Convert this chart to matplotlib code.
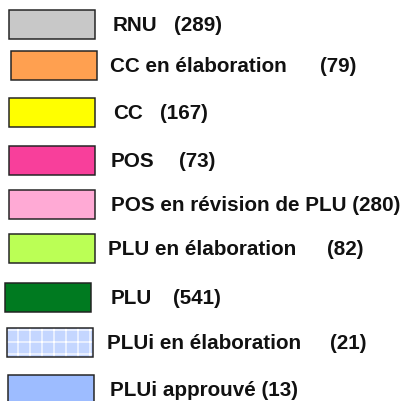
import matplotlib.pyplot as plt
from matplotlib.patches import Rectangle

labels = ['RNU', 'CC en élaboration', 'CC', 'POS', 'POS en révision de PLU',
          'PLU en élaboration', 'PLU', 'PLUi en élaboration', 'PLUi approuvé']
counts = [289, 79, 167, 73, 280, 82, 541, 21, 13]
colors = ['#c8c8c8', '#ffa050', '#ffff00', '#f83f9b', '#ffaad5',
          '#bbff55', '#007a20', '#c4d6ff', '#9dbcff']

# layout (pixels)
box_x = [9, 11, 9, 9, 9, 9, 5, 7, 8]
box_y = [10, 51, 98, 146, 190, 234, 283, 328, 375]
text_x = [113, 110, 113, 111, 111, 108, 111, 107, 110]
count_x = [174, 320, 160, 179, None, 327, 173, 330, None]

plt.rcParams['font.family'] = ['Liberation Sans', 'DejaVu Sans']
plt.rcParams['hatch.linewidth'] = 1.2
fig = plt.figure(figsize=(406 / 72, 401 / 72), dpi=72)
ax = fig.add_axes([0, 0, 1, 1])
ax.set_xlim(0, 406)
ax.set_ylim(401, 0)
ax.axis('off')

fs = 20.6
for i, lab in enumerate(labels):
    x, y = box_x[i], box_y[i]
    if 'PLUi en' in lab:
        ax.add_patch(Rectangle((x, y), 86, 29, facecolor=colors[i], edgecolor='white',
                               hatch='+', linewidth=0))
        ax.add_patch(Rectangle((x, y), 86, 29, facecolor='none', edgecolor='#222222',
                               linewidth=1.5))
    else:
        ax.add_patch(Rectangle((x, y), 86, 29, facecolor=colors[i], edgecolor='#222222',
                               linewidth=1.5))
    base = y + 21
    if count_x[i] is None:
        ax.text(text_x[i], base, f'{lab} ({counts[i]})', fontsize=fs, fontweight='bold',
                color='#111111', va='baseline', ha='left')
    else:
        ax.text(text_x[i], base, lab, fontsize=fs, fontweight='bold',
                color='#111111', va='baseline', ha='left')
        ax.text(count_x[i], base, f'({counts[i]})', fontsize=fs, fontweight='bold',
                color='#111111', va='baseline', ha='left')

fig.savefig('out.png', dpi=72)
